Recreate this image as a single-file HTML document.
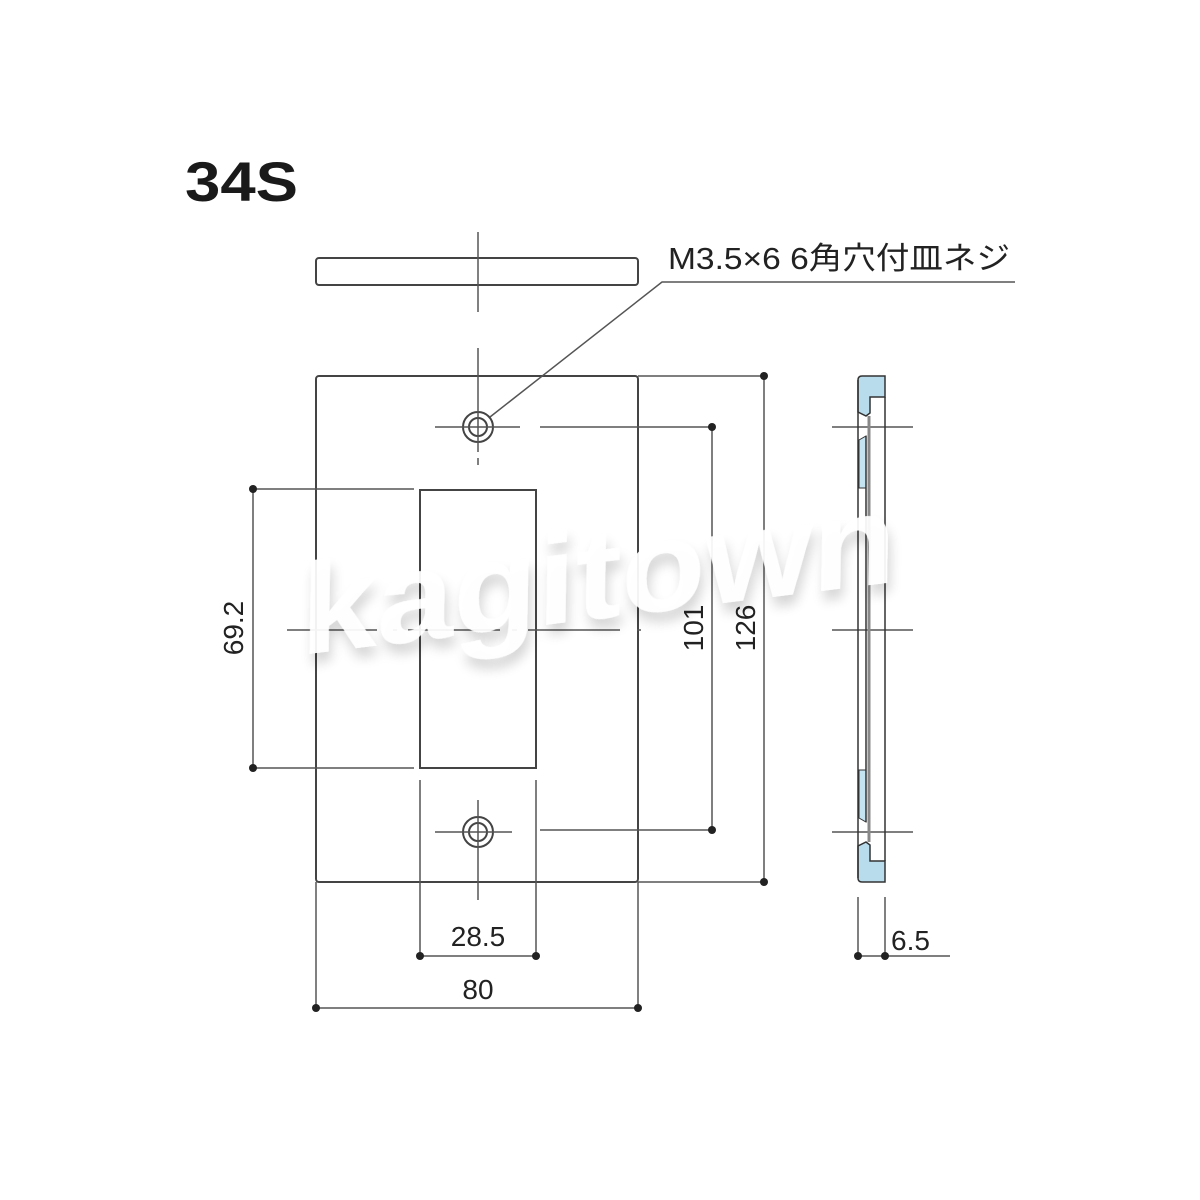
<!DOCTYPE html>
<html><head><meta charset="utf-8"><style>
html,body{margin:0;padding:0;background:#fff;}
svg{display:block;}
</style></head><body>
<svg width="1200" height="1200" viewBox="0 0 1200 1200" xmlns="http://www.w3.org/2000/svg">
<defs>
<filter id="sh" x="-10%" y="-30%" width="120%" height="160%">
<feGaussianBlur in="SourceAlpha" stdDeviation="6"/>
<feOffset dx="3" dy="10" result="b"/>
<feComponentTransfer><feFuncA type="linear" slope="0.18"/></feComponentTransfer>
<feMerge><feMergeNode/><feMergeNode in="SourceGraphic"/></feMerge>
</filter>
</defs>
<g font-family="Liberation Sans, sans-serif">
<text x="185" y="201" font-size="56" font-weight="bold" fill="#1a1a1a" textLength="113" lengthAdjust="spacingAndGlyphs">34S</text>

<g stroke="#444" stroke-width="2" fill="none">
<rect x="316" y="258" width="322" height="27" rx="3"/>
<rect x="316" y="376" width="322" height="506" rx="3"/>
<rect x="420" y="490" width="116" height="278"/>
<circle cx="478" cy="427" r="15"/><circle cx="478" cy="427" r="9"/>
<circle cx="478" cy="832" r="15"/><circle cx="478" cy="832" r="9"/>
</g>
<g stroke="#555" stroke-width="1.5" fill="none">
<line x1="478" y1="232" x2="478" y2="312"/>
<line x1="478" y1="348" x2="478" y2="452"/>
<line x1="478" y1="458" x2="478" y2="465"/>
<line x1="478" y1="800" x2="478" y2="900"/>
<line x1="435" y1="427" x2="520" y2="427"/>
<line x1="435" y1="832" x2="512" y2="832"/>
<line x1="287" y1="630" x2="377" y2="630"/>
<line x1="393" y1="630" x2="397" y2="630"/>
<line x1="408" y1="630" x2="500" y2="630"/>
<line x1="512" y1="630" x2="517" y2="630"/>
<line x1="528" y1="630" x2="620" y2="630"/>
<line x1="637" y1="630" x2="641" y2="630"/>
<polyline points="490,417 662,282 1015,282"/>
<line x1="638" y1="376" x2="764" y2="376"/>
<line x1="638" y1="882" x2="764" y2="882"/>
<line x1="764" y1="376" x2="764" y2="882"/>
<line x1="540" y1="427" x2="712" y2="427"/>
<line x1="540" y1="830" x2="712" y2="830"/>
<line x1="712" y1="427" x2="712" y2="830"/>
<line x1="253" y1="489" x2="414" y2="489"/>
<line x1="253" y1="768" x2="414" y2="768"/>
<line x1="253" y1="489" x2="253" y2="768"/>
<line x1="420" y1="780" x2="420" y2="956"/>
<line x1="536" y1="780" x2="536" y2="956"/>
<line x1="420" y1="956" x2="536" y2="956"/>
<line x1="316" y1="882" x2="316" y2="1008"/>
<line x1="638" y1="882" x2="638" y2="1008"/>
<line x1="316" y1="1008" x2="638" y2="1008"/>
<line x1="832" y1="427" x2="913" y2="427"/>
<line x1="832" y1="630" x2="913" y2="630"/>
<line x1="832" y1="832" x2="913" y2="832"/>
<line x1="858" y1="897" x2="858" y2="956"/>
<line x1="885" y1="897" x2="885" y2="956"/>
<line x1="858" y1="956" x2="950" y2="956"/>
</g>
<g fill="#222">
<circle cx="764" cy="376" r="4"/><circle cx="764" cy="882" r="4"/>
<circle cx="712" cy="427" r="4"/><circle cx="712" cy="830" r="4"/>
<circle cx="253" cy="489" r="4"/><circle cx="253" cy="768" r="4"/>
<circle cx="420" cy="956" r="4"/><circle cx="536" cy="956" r="4"/>
<circle cx="316" cy="1008" r="4"/><circle cx="638" cy="1008" r="4"/>
<circle cx="858" cy="956" r="4"/><circle cx="885" cy="956" r="4"/>
</g>

<g stroke="#333" stroke-width="1.5">
<path d="M858,380 Q858,376 862,376 L885,376 L885,397 L870,397 L870,413 L866,416 L858,412 Z" fill="#b8dcec"/>
<path d="M858,878 Q858,882 862,882 L885,882 L885,861 L870,861 L870,845 L866,842 L858,846 Z" fill="#b8dcec"/>
<path d="M859,440 L866,436 L866,488 L859,488 Z" fill="#c4e4f2" stroke-width="1"/>
<path d="M859,818 L866,822 L866,770 L859,770 Z" fill="#c4e4f2" stroke-width="1"/>
<line x1="858" y1="380" x2="858" y2="878" fill="none"/>
<line x1="885" y1="397" x2="885" y2="861" fill="none"/>
<line x1="866" y1="436" x2="866" y2="822" fill="none"/>
</g>
<line x1="869" y1="416" x2="869" y2="842" stroke="#888" stroke-width="3"/>

<g fill="#222" font-size="28">
<text x="668" y="269" font-family="Liberation Sans, 'Noto Sans CJK JP', sans-serif" font-size="31" textLength="342" lengthAdjust="spacingAndGlyphs">M3.5×6 6角穴付皿ネジ</text>
<text x="478" y="946" text-anchor="middle">28.5</text>
<text x="478" y="999" text-anchor="middle">80</text>
<text x="891" y="950">6.5</text>
<text transform="translate(243,628) rotate(-90)" text-anchor="middle">69.2</text>
<text transform="translate(703,628) rotate(-90)" text-anchor="middle">101</text>
<text transform="translate(755,628) rotate(-90)" text-anchor="middle">126</text>
</g>

<text transform="translate(300,655) rotate(-7) skewX(-8)" font-size="128" font-weight="bold" fill="#ffffff" fill-opacity="0.93" filter="url(#sh)" textLength="600" lengthAdjust="spacingAndGlyphs">kagitown</text>
</g>
</svg>
</body></html>
